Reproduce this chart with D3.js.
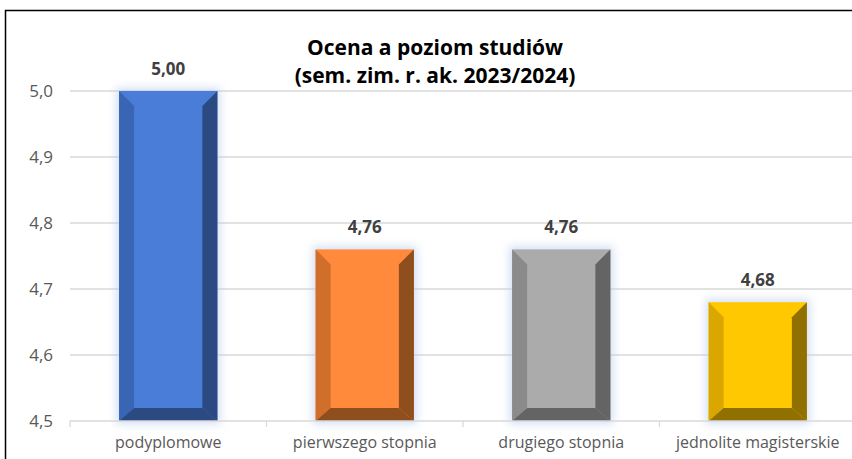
<!DOCTYPE html>
<html>
<head>
<meta charset="utf-8">
<script src="https://cdn.jsdelivr.net/npm/d3@7"></script>
<style>
  body { margin: 0; background: #fff; }
  svg { display: block; font-family: "Open Sans", "Noto Sans", sans-serif; }
</style>
</head>
<body>
<svg id="chart"></svg>
<script>
const categories = ["podyplomowe", "pierwszego stopnia", "drugiego stopnia", "jednolite magisterskie"];
const values = [5.00, 4.76, 4.76, 4.68];
const yTicks = [4.5, 4.6, 4.7, 4.8, 4.9, 5.0];
const titleLines = ["Ocena a poziom studiów", "(sem. zim. r. ak. 2023/2024)"];
// front, left bevel, right/bottom bevel
const palette = [
  ["#4a7dd8", "#3a65b4", "#2b4a82"],
  ["#ff8a3c", "#d06e2c", "#8e4e1e"],
  ["#ababab", "#8b8b8b", "#646464"],
  ["#ffc800", "#d9a700", "#8f7000"]
];

const width = 852, height = 459;
const margin = { top: 91, right: -4, bottom: 38, left: 70 };

const svg = d3.select("#chart")
  .attr("width", width)
  .attr("height", height);

// outer frame
svg.append("rect")
  .attr("x", 5.5).attr("y", 10.5)
  .attr("width", width + 10).attr("height", height + 10)
  .attr("fill", "#fff")
  .attr("stroke", "#000")
  .attr("stroke-width", 1.5);

const defs = svg.append("defs");
const glow = defs.append("filter").attr("id", "glow")
  .attr("x", "-30%").attr("y", "-30%").attr("width", "160%").attr("height", "160%");
glow.append("feMorphology").attr("in", "SourceAlpha").attr("operator", "dilate").attr("radius", 3).attr("result", "d");
glow.append("feGaussianBlur").attr("in", "d").attr("stdDeviation", 4).attr("result", "b");
glow.append("feFlood").attr("flood-color", "#b8cbee").attr("flood-opacity", 0.6);
glow.append("feComposite").attr("in2", "b").attr("operator", "in");

const x = d3.scaleBand()
  .domain(categories)
  .range([margin.left, width - margin.right])
  .paddingInner(0.5)
  .paddingOuter(0.25);

const y = d3.scaleLinear()
  .domain([4.5, 5.0])
  .range([height - margin.bottom, margin.top]);

const fmt = v => d3.format(".1f")(v).replace(".", ",");
const fmt2 = v => d3.format(".2f")(v).replace(".", ",");

// grid
svg.append("g")
  .selectAll("line")
  .data(yTicks.slice(1))
  .enter()
  .append("line")
  .attr("x1", margin.left).attr("x2", width)
  .attr("y1", d => y(d)).attr("y2", d => y(d))
  .attr("stroke", "#d9d9d9")
  .attr("stroke-width", 1.3);

// y labels
svg.append("g")
  .selectAll("text")
  .data(yTicks)
  .enter()
  .append("text")
  .attr("x", 53)
  .attr("y", d => y(d))
  .attr("dy", "0.35em")
  .attr("text-anchor", "end")
  .attr("font-size", 17)
  .attr("fill", "#595959")
  .text(fmt);

// glow layer
svg.append("g")
  .selectAll("rect")
  .data(values)
  .enter()
  .append("rect")
  .attr("x", (d, i) => x(categories[i]))
  .attr("y", d => y(d))
  .attr("width", x.bandwidth())
  .attr("height", d => y(4.5) - y(d))
  .attr("fill", "#000")
  .attr("filter", "url(#glow)");

// bevelled bars
const bev = 15;
const bars = svg.append("g")
  .selectAll("g")
  .data(values)
  .enter()
  .append("g");

bars.each(function (d, i) {
  const g = d3.select(this);
  const x0 = x(categories[i]), x1 = x0 + x.bandwidth();
  const y0 = y(d), y1 = y(4.5);
  const c = palette[i];
  const b = Math.min(bev, (y1 - y0) / 2);
  const bb = b - 2;
  g.append("rect").attr("x", x0).attr("y", y0).attr("width", x1 - x0).attr("height", y1 - y0).attr("fill", c[0]);
  const poly = (pts, fill) => g.append("polygon").attr("points", pts.map(p => p.join(",")).join(" ")).attr("fill", fill);
  poly([[x0, y0], [x0 + b, y0 + b], [x0 + b, y1 - bb], [x0, y1]], c[1]);
  poly([[x1, y0], [x1 - b, y0 + b], [x1 - b, y1 - bb], [x1, y1]], c[2]);
  poly([[x0, y1], [x0 + b, y1 - bb], [x1 - b, y1 - bb], [x1, y1]], c[2]);
});

// value labels
svg.append("g")
  .selectAll("text")
  .data(values)
  .enter()
  .append("text")
  .attr("x", (d, i) => x(categories[i]) + x.bandwidth() / 2)
  .attr("y", d => y(d) - 16)
  .attr("text-anchor", "middle")
  .attr("font-size", 17)
  .attr("font-weight", "bold")
  .attr("fill", "#404040")
  .text(fmt2);

// x axis
const step = x.step();
const axisY = y(4.5);
svg.append("line")
  .attr("x1", margin.left).attr("x2", width)
  .attr("y1", axisY).attr("y2", axisY)
  .attr("stroke", "#d9d9d9").attr("stroke-width", 1.3);
svg.append("g")
  .selectAll("line")
  .data(categories)
  .enter()
  .append("line")
  .attr("x1", d => x(d) - x.paddingOuter() * step)
  .attr("x2", d => x(d) - x.paddingOuter() * step)
  .attr("y1", axisY).attr("y2", axisY + 6)
  .attr("stroke", "#d9d9d9").attr("stroke-width", 1.3);
svg.append("g")
  .selectAll("text")
  .data(categories)
  .enter()
  .append("text")
  .attr("x", d => x(d) + x.bandwidth() / 2)
  .attr("y", axisY + 27)
  .attr("text-anchor", "middle")
  .attr("font-size", 16)
  .attr("fill", "#595959")
  .text(d => d);

// title
svg.append("g")
  .selectAll("text")
  .data(titleLines)
  .enter()
  .append("text")
  .attr("x", 435)
  .attr("y", (d, i) => 55 + i * 28)
  .attr("text-anchor", "middle")
  .attr("font-size", 21)
  .attr("font-weight", "bold")
  .attr("fill", "#000")
  .text(d => d);
</script>
</body>
</html>
